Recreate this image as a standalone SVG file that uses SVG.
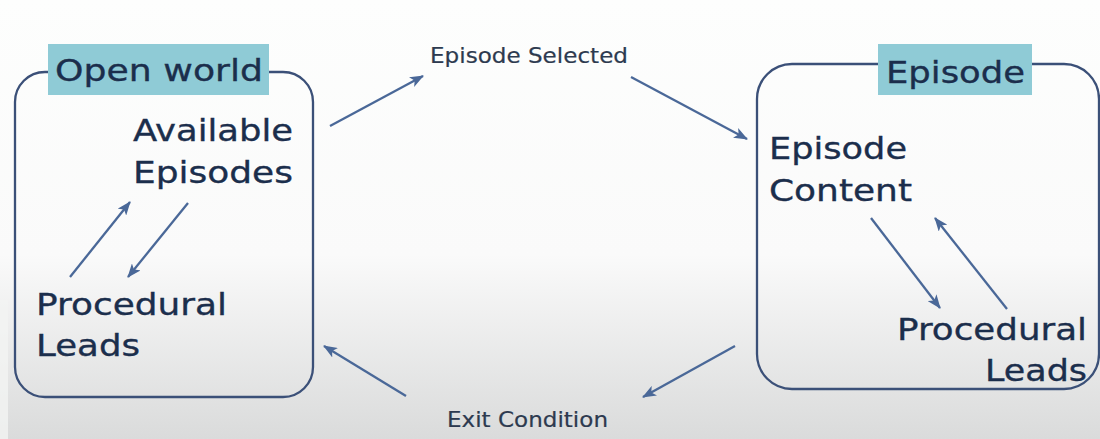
<svg xmlns="http://www.w3.org/2000/svg" width="1100" height="439" viewBox="0 0 1100 439">
  <defs>
    <linearGradient id="bg" x1="0" y1="0" x2="0" y2="1">
      <stop offset="0" stop-color="#fdfefd"/>
      <stop offset="0.58" stop-color="#fafafa"/>
      <stop offset="1" stop-color="#dadbdb"/>
    </linearGradient>
    <marker id="head" viewBox="0 0 14 11" refX="13" refY="5.5" markerWidth="14" markerHeight="11" markerUnits="userSpaceOnUse" orient="auto">
      <path d="M0,0 L14,5.5 L0,11 L3.5,5.5 Z" fill="#4a6898"/>
    </marker>
    <style>
      .frame { fill: none; stroke: #3b5078; stroke-width: 2.3; }
      .tag { fill: #8fcbd6; }
      .big { font-family: "DejaVu Sans", Verdana, sans-serif; font-size: 31px; fill: #1b2e4c; stroke: #1b2e4c; stroke-width: 0.35; }
      .small { font-family: "DejaVu Sans", Verdana, sans-serif; font-size: 21px; fill: #2d3a4f; stroke: #2d3a4f; stroke-width: 0.2; }
      .link { fill: none; stroke: #4a6898; stroke-width: 2.3; marker-end: url(#head); }
    </style>
  </defs>

  <!-- backdrop -->
  <rect x="0" y="0" width="1100" height="439" fill="url(#bg)"/>
  <rect x="0" y="300" width="8" height="139" fill="#f3f4f3" opacity="0.8"/>

  <!-- open world state -->
  <g id="open-world">
    <rect class="frame" x="15" y="72" width="298" height="325" rx="30" ry="30"/>
    <rect class="tag" x="48" y="44" width="221" height="51"/>
    <text class="big" x="55" y="81" textLength="208" lengthAdjust="spacingAndGlyphs">Open world</text>
  </g>

  <g id="available-episodes">
    <text class="big" x="133" y="141" textLength="160" lengthAdjust="spacingAndGlyphs">Available</text>
    <text class="big" x="133" y="183" textLength="160" lengthAdjust="spacingAndGlyphs">Episodes</text>
  </g>

  <g id="open-world-leads">
    <text class="big" x="36" y="315" textLength="191" lengthAdjust="spacingAndGlyphs">Procedural</text>
    <text class="big" x="36" y="356" textLength="104" lengthAdjust="spacingAndGlyphs">Leads</text>
  </g>

  <!-- episode state -->
  <g id="episode">
    <rect class="frame" x="757" y="64" width="342" height="325" rx="35" ry="35"/>
    <rect class="tag" x="878" y="44" width="154" height="51"/>
    <text class="big" x="886" y="83" textLength="139" lengthAdjust="spacingAndGlyphs">Episode</text>
  </g>

  <g id="episode-content">
    <text class="big" x="769" y="159" textLength="138" lengthAdjust="spacingAndGlyphs">Episode</text>
    <text class="big" x="769" y="201" textLength="143" lengthAdjust="spacingAndGlyphs">Content</text>
  </g>

  <g id="episode-leads">
    <text class="big" x="897" y="340" textLength="190" lengthAdjust="spacingAndGlyphs">Procedural</text>
    <text class="big" x="985" y="381" textLength="102" lengthAdjust="spacingAndGlyphs">Leads</text>
  </g>

  <!-- transition labels -->
  <g id="episode-selected">
    <text class="small" x="430" y="63" textLength="198" lengthAdjust="spacingAndGlyphs">Episode Selected</text>
  </g>
  <g id="exit-condition">
    <text class="small" x="447" y="427" textLength="161" lengthAdjust="spacingAndGlyphs">Exit Condition</text>
  </g>

  <!-- connectors -->
  <g id="connectors">
    <line class="link" x1="70" y1="277" x2="130" y2="202"/>
    <line class="link" x1="188" y1="203" x2="128" y2="277"/>
    <line class="link" x1="330" y1="126" x2="423" y2="76"/>
    <line class="link" x1="631" y1="77" x2="747" y2="139"/>
    <line class="link" x1="871" y1="218" x2="940" y2="308"/>
    <line class="link" x1="1007" y1="309" x2="935" y2="218"/>
    <line class="link" x1="735" y1="346" x2="643" y2="397"/>
    <line class="link" x1="406" y1="396" x2="324" y2="346"/>
  </g>
</svg>
